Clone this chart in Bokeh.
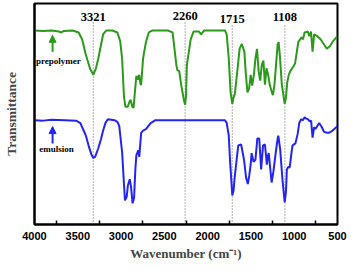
from bokeh.plotting import figure
from bokeh.models import Range1d, FixedTicker, Arrow, NormalHead, ColumnDataSource
from bokeh.core.properties import value
from bokeh.embed import file_html
from bokeh.resources import INLINE

# ---------------- data ----------------
prepolymer_wn = [4000, 3900, 3800, 3720, 3690, 3660, 3560, 3490, 3450, 3410, 3360, 3321, 3290, 3263, 3230,
                 3208, 3170, 3100, 3043, 3010, 2988, 2966, 2950, 2922, 2900, 2889, 2870, 2856, 2840, 2823,
                 2805, 2790, 2775, 2768, 2746, 2713, 2680, 2636, 2460, 2405, 2361, 2350, 2328, 2306, 2273,
                 2260, 2251, 2240, 2196, 2163, 2100, 2075, 2040, 1800, 1780, 1756, 1735, 1715, 1700, 1686,
                 1650, 1631, 1605, 1576, 1558, 1540, 1521, 1503, 1485, 1466, 1448, 1430, 1411, 1393, 1375,
                 1356, 1338, 1320, 1301, 1283, 1265, 1246, 1228, 1210, 1191, 1180, 1165, 1143, 1110, 1095,
                 1081, 1063, 1045, 1008, 990, 953, 916, 898, 880, 843, 825, 806, 788, 770, 733, 696, 660,
                 623, 586, 550, 513, 500]
prepolymer_t = [87.8, 87.6, 87.8, 87.3, 86.9, 87.6, 87.8, 86.9, 83.8, 77.3, 70.7, 67.7, 70.7, 75.1, 81.7,
                86.0, 87.8, 87.8, 86.9, 83.0, 75.1, 57.6, 53.3, 53.3, 55.9, 56.3, 53.3, 52.8, 60.0, 67.3,
                65.5, 67.7, 63.3, 63.3, 75.1, 82.5, 86.9, 87.8, 87.8, 86.9, 72.1, 69.9, 69.4, 63.3, 56.0,
                54.2, 57.6, 72.1, 83.8, 87.3, 87.3, 86.0, 87.8, 87.8, 86.0, 75.1, 59.8, 54.6, 57.6, 59.0,
                72.1, 79.5, 81.7, 78.2, 67.7, 59.8, 61.5, 67.7, 62.9, 67.7, 75.1, 79.5, 69.4, 65.1, 72.1,
                74.2, 63.3, 70.7, 67.7, 63.3, 60.7, 58.5, 63.3, 72.1, 81.7, 82.5, 76.0, 63.3, 54.6, 57.6,
                64.2, 67.7, 69.4, 71.6, 72.9, 82.5, 84.7, 83.8, 86.9, 87.3, 85.2, 87.3, 78.2, 86.0, 85.2,
                83.8, 81.7, 79.5, 80.8, 83.0, 84.7, 84.7]

emulsion_wn = [4000, 3900, 3800, 3650, 3520, 3470, 3440, 3406, 3370, 3340, 3321, 3300, 3263, 3230, 3208,
               3180, 3153, 3076, 3040, 3021, 2988, 2966, 2955, 2935, 2922, 2900, 2885, 2867, 2850, 2835,
               2823, 2801, 2790, 2768, 2746, 2713, 2658, 2603, 1800, 1780, 1756, 1740, 1715, 1700, 1690,
               1665, 1646, 1613, 1580, 1555, 1536, 1520, 1503, 1492, 1470, 1448, 1426, 1404, 1382, 1360,
               1338, 1316, 1305, 1294, 1261, 1240, 1217, 1195, 1184, 1162, 1135, 1110, 1095, 1085, 1070,
               1052, 1030, 1019, 986, 960, 942, 920, 900, 880, 865, 840, 821, 805, 788, 770, 755, 711,
               680, 656, 620, 601, 560, 500]
emulsion_t = [47.2, 47.0, 47.4, 47.2, 47.0, 45.9, 43.2, 40.2, 35.0, 31.4, 30.1, 30.6, 34.5, 38.9, 42.4,
              46.0, 47.6, 47.2, 46.3, 44.5, 32.8, 18.0, 10.9, 12.5, 17.5, 20.5, 17.0, 9.6, 12.0, 25.0,
              31.4, 33.6, 30.6, 41.5, 42.5, 43.2, 45.9, 47.2, 47.2, 46.0, 40.2, 28.0, 13.1, 15.5, 20.5,
              29.3, 35.8, 36.2, 29.3, 21.0, 18.3, 22.0, 27.1, 32.3, 28.4, 29.3, 38.9, 38.9, 24.9, 35.8,
              36.2, 27.1, 31.0, 32.3, 19.0, 24.0, 31.4, 38.0, 40.2, 34.0, 20.0, 10.0, 15.0, 24.9, 26.0,
              25.8, 33.0, 35.8, 36.7, 41.0, 45.9, 47.6, 47.2, 48.5, 48.0, 47.6, 46.7, 47.0, 39.3, 44.0,
              43.2, 45.9, 44.0, 41.9, 41.5, 41.5, 42.4, 44.5]

peak_wn = [3321, 2260, 1715, 1108]
peak_labels = ["3321", "2260", "1715", "1108"]
peak_label_t = [93.9, 94.3, 93.0, 93.7]
peak_line_top = [91.7, 91.7, 90.4, 91.0]

tick_vals = [4000, 3500, 3000, 2500, 2000, 1500, 1000, 500]
tick_labels = ["4000", "3500", "3000", "2500", "2000", "1500", "1000", "500"]
minor_vals = [3750, 3250, 2750, 2250, 1750, 1250, 750]

series_names = ["prepolymer", "emulsion"]
arrow_wn = [3791, 3791]
arrow_t_start = [78.2, 36.7]
arrow_t_end = [85.6, 44.3]
name_wn = [3725, 3747]
name_t = [73.8, 34.1]

GREEN = "#2b9a1a"
BLUE = "#2424f2"
SERIF = "Liberation Serif"

# ---------------- figure ----------------
p = figure(width=347, height=263, x_range=Range1d(4000, 500), y_range=Range1d(0, 100),
           output_backend="svg", toolbar_location=None,
           min_border_left=33, min_border_right=10, min_border_top=3, min_border_bottom=37)
p.background_fill_color = "white"
p.border_fill_color = "white"
p.xgrid.visible = False
p.ygrid.visible = False
p.outline_line_color = "black"
p.outline_line_width = 2

xa = p.xaxis[0]
xa.ticker = FixedTicker(ticks=tick_vals, minor_ticks=minor_vals)
xa.major_label_overrides = {v: s for v, s in zip(tick_vals, tick_labels)}
xa.axis_line_width = 2
xa.major_tick_in = 0
xa.major_tick_out = 0
xa.minor_tick_in = 4
xa.minor_tick_out = 0
xa.minor_tick_line_width = 1.5
xa.major_label_text_font = "Liberation Sans"
xa.major_label_text_font_style = "bold"
xa.major_label_text_font_size = "11px"
xa.major_label_text_color = "black"
xa.major_label_standoff = 7
xa.axis_label = "Wavenumber (cm\u207b\u00b9)"
xa.axis_label_text_font = SERIF
xa.axis_label_text_font_style = "bold"
xa.axis_label_text_font_size = "13px"
xa.axis_label_standoff = 3

ya = p.yaxis[0]
ya.ticker = FixedTicker(ticks=[])
ya.axis_line_width = 2
ya.major_tick_line_color = None
ya.minor_tick_line_color = None
ya.axis_label = "Transmittance"
ya.axis_label_text_font = SERIF
ya.axis_label_text_font_style = "bold"
ya.axis_label_text_font_size = "13.5px"
ya.axis_label_standoff = 16

# dotted guide lines at peaks
p.segment(x0=peak_wn, y0=[0] * len(peak_wn), x1=peak_wn, y1=peak_line_top,
          line_color="#7a7a7a", line_width=1.2, line_dash="1 2")

# spectra
p.line(prepolymer_wn, prepolymer_t, line_color=GREEN, line_width=2)
p.line(emulsion_wn, emulsion_t, line_color=BLUE, line_width=2)

# peak labels
src = ColumnDataSource(dict(x=peak_wn, y=peak_label_t, t=peak_labels))
p.text(x="x", y="y", text="t", source=src, text_font=value(SERIF), text_font_style="bold",
       text_font_size="12.5px", text_align="center", text_baseline="middle", text_color="black")

# arrows + series names
for c, xs, y0, y1 in zip([GREEN, BLUE], arrow_wn, arrow_t_start, arrow_t_end):
    p.add_layout(Arrow(end=NormalHead(size=7, fill_color=c, line_color=c),
                       x_start=xs, y_start=y0, x_end=xs, y_end=y1,
                       line_color=c, line_width=2))
nsrc = ColumnDataSource(dict(x=name_wn, y=name_t, t=series_names))
p.text(x="x", y="y", text="t", source=nsrc, text_font=value(SERIF), text_font_style="bold",
       text_font_size="9px", text_align="center", text_baseline="middle", text_color="black")

open("out.html", "w").write(file_html(p, INLINE))
